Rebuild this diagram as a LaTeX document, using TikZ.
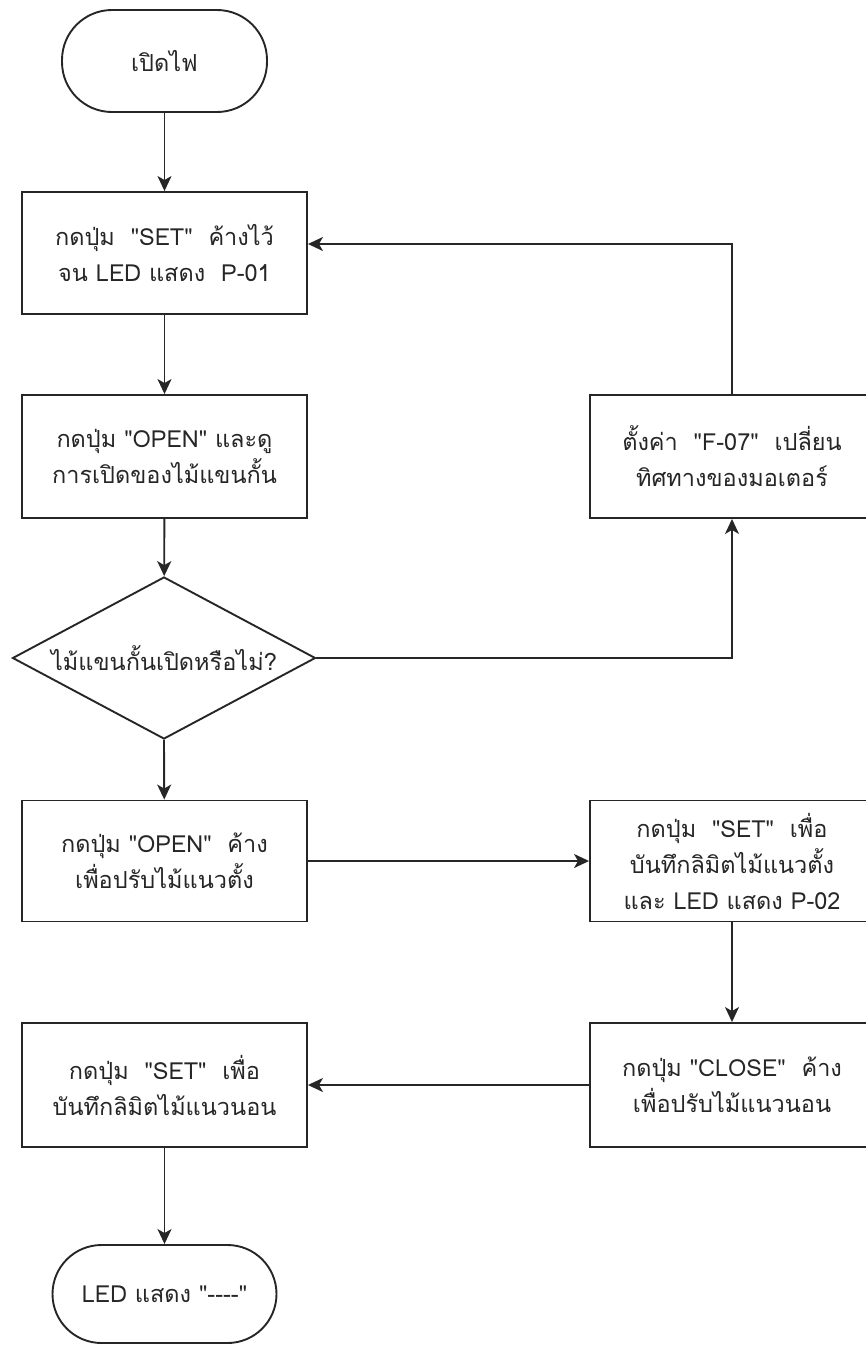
\documentclass[tikz,border=0pt]{standalone}
\usepackage{fontspec}
\newfontfamily\thaifont[Script=Thai]{Loma}
\usetikzlibrary{shapes.geometric,arrows.meta}
\newcommand{\flowfont}{\thaifont\fontsize{23.5}{36}\selectfont}
\tikzset{
  x=1pt,y=-1pt,
  base/.style={draw=black!85, line width=1.9pt, text=black!85, font=\flowfont, align=center, inner sep=0pt},
  procbox/.style={base, rectangle, minimum width=285pt, minimum height=122pt},
  termbox/.style={base, rectangle, rounded corners=50pt},
  decbox/.style={base, diamond, minimum width=303pt, minimum height=162pt},
  conn/.style={draw=black!85, line width=1.9pt, -{Stealth[length=15pt,width=14pt,inset=4pt]}},
}
\begin{document}
\begin{tikzpicture}
\useasboundingbox (0,0) rectangle (866,1345);
\node[termbox, minimum width=205pt, minimum height=102pt] (s) at (164.5,61) {เปิดไฟ};
\node[procbox] (b1) at (164.5,253) {กดปุ่ม \ "SET" \ ค้างไว้\\จน LED แสดง \ P-01};
\node[procbox, minimum height=123pt] (b2) at (164.5,456.5) {กดปุ่ม "OPEN" และดู\\การเปิดของไม้แขนกั้น};
\node[decbox, label={center:{\flowfont\color{black!85}ไม้แขนกั้นเปิดหรือไม่?}}] (d) at (164,658) {};
\node[procbox, minimum width=284pt, minimum height=123pt] (f) at (732,456.5) {ตั้งค่า \ "F-07" \ เปลี่ยน\\ทิศทางของมอเตอร์};
\node[procbox, minimum height=121pt] (b4) at (164.5,861) {กดปุ่ม "OPEN" \ ค้าง\\เพื่อปรับไม้แนวตั้ง};
\node[procbox, minimum width=284pt, minimum height=121pt] (b5) at (732,861) {กดปุ่ม \ "SET" \ เพื่อ\\บันทึกลิมิตไม้แนวตั้ง\\และ LED แสดง P-02};
\node[procbox, minimum width=284pt, minimum height=124pt] (b6) at (732,1085) {กดปุ่ม "CLOSE" \ ค้าง\\เพื่อปรับไม้แนวนอน};
\node[procbox, minimum height=124pt] (b7) at (164.5,1085) {กดปุ่ม \ "SET" \ เพื่อ\\บันทึกลิมิตไม้แนวนอน};
\node[termbox, minimum width=224pt, minimum height=98pt, rounded corners=49pt] (e) at (164.5,1294) {LED แสดง "----"};
\draw[conn] (s) -- (b1);
\draw[conn] (b1) -- (b2);
\draw[conn] (b2) -- (d);
\draw[conn] (d.east) -| (f.south);
\draw[conn] (f.north) |- ([yshift=9pt]b1.east);
\draw[conn] (d.south) -- (b4);
\draw[conn] (b4) -- (b5);
\draw[conn] (b5) -- (b6);
\draw[conn] (b6) -- (b7);
\draw[conn] (b7) -- (e);
\end{tikzpicture}
\end{document}
